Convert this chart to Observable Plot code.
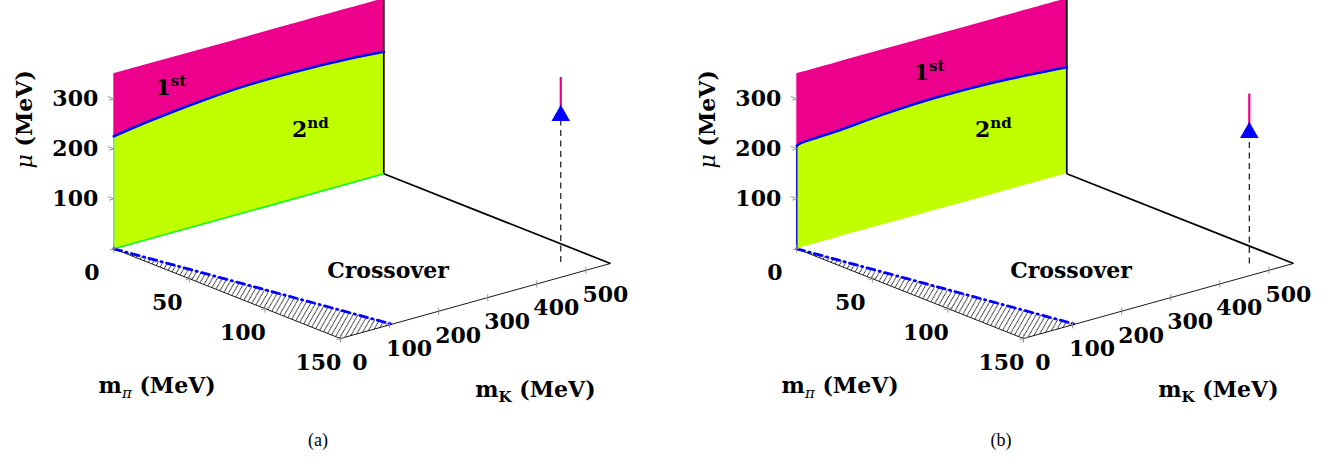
<!DOCTYPE html>
<html><head><meta charset="utf-8">
<script src="https://cdn.jsdelivr.net/npm/d3@7"></script>
<script src="https://cdn.jsdelivr.net/npm/@observablehq/plot@0.6"></script>
<style>
body{margin:0;background:#fff;}
#wrap{position:relative;width:1340px;height:466px;overflow:hidden;background:#fff;}
.panel{position:absolute;top:0;width:683px;height:425px;}
.cap{position:absolute;top:430px;width:636px;text-align:center;font-family:"Liberation Serif",serif;font-size:18px;color:#000;}
</style></head><body><div id="wrap"></div>
<script>
// ---------- data ----------
const muTicks  = [100, 200, 300];
const mpiTicks = [0, 50, 100, 150];
const mkTicks  = [0, 100, 200, 300, 400, 500];
const mpiMax = 150, mkMax = 550, muMax = 350;

// first/second order boundary on the m_pi = 0 wall
const wallMK_a = [0, 75, 177, 278, 380, 482, 550];
const wallMu_a = [225, 236, 247, 253, 253, 249, 244];
const wallMK_b = [0, 7, 79, 181, 282, 384, 486, 550];
const wallMu_b = [206, 209, 213, 221, 225, 224, 218, 213];

// hatched region boundary on the floor (mu = 0)
const floorMpi = [0, 50, 100, 150];
const floorMK  = [0, 35, 70, 105];

// physical point line
const phys_a = {mpi: 135, mk: 495, muC: 293, muTop: 370};
const phys_b = {mpi: 138, mk: 497, muC: 262, muTop: 340};

// region labels
const lab_a = {cross: [97, 260], first: [85, 299], second: [363, 139]};
const lab_b = {cross: [97, 260], first: [238, 286], second: [363, 138]};

// ---------- view projection (3D -> 2D) ----------
const V = {xMpi: 1.511, xMk: 0.4909, yMpi: -0.598, yMk: 0.1364, yMu: 0.5};
const px = (mpi, mk) => V.xMpi * mpi + V.xMk * mk;
const py = (mpi, mk, mu) => V.yMpi * mpi + V.yMk * mk + V.yMu * mu;

const W = 683, H = 425, OX = 113.3, OY = 248.3;
const MAGENTA = "#EC008C", LIME = "#BFFF00", BLUE = "#0000FF", GREEN = "#00FF00", GRAY = "#8a8a8a";
const FONT = "DejaVu Serif";

function seg(a, b) { return {x1: px(a[0], a[1]), y1: py(...a), x2: px(b[0], b[1]), y2: py(...b)}; }

function panel(wallMK, wallMu, phys, lab, id, variant) {
  const wall = wallMK.map((k, i) => ({x: px(0, k), y0: py(0, k, 0), yb: py(0, k, wallMu[i]), yt: py(0, k, muMax)}));
  const lower = floorMpi.map(m => ({x: px(m, 0), y: py(m, 0, 0)}));
  const bnd = floorMpi.map((m, i) => ({x: px(m, floorMK[i]), y: py(m, floorMK[i], 0)}));
  const hatch = [...lower, ...bnd.slice().reverse()];

  const edgesBlack = [seg([0, mkMax, 0], [0, mkMax, muMax]), seg([0, mkMax, 0], [mpiMax, mkMax, 0])];
  const axesThin = [seg([0, 0, 0], [mpiMax, 0, 0]), seg([mpiMax, 0, 0], [mpiMax, mkMax, 0])];
  const ticks = [
    ...muTicks.flatMap(t => [seg([0, 0, t], [-4, 0, t]), seg([0, 0, t], [0, -10, t])]),
    ...mpiTicks.flatMap(t => [seg([t, 0, -8], [t, 0, 8]), seg([t, -8, 0], [t, 8, 0])]),
    ...mkTicks.map(t => seg([mpiMax, t, -7], [mpiMax, t, 7]))
  ];
  const leftEdge = [seg([0, 0, 0], [0, 0, wallMu[0]])];
  const bottomEdge = [seg([0, 0, 0], [0, mkMax, 0])];
  const dashSeg = [seg([phys.mpi, phys.mk, 0], [phys.mpi, phys.mk, phys.muC])];
  const topSeg = [seg([phys.mpi, phys.mk, phys.muC], [phys.mpi, phys.mk, phys.muTop])];

  const txt = {fontFamily: FONT, fontWeight: "bold", fontSize: 22, fill: "black"};
  const marks = [
    Plot.areaY(wall, {x: "x", y1: "y0", y2: "yb", fill: LIME, curve: "catmull-rom"}),
    Plot.areaY(wall, {x: "x", y1: "yb", y2: "yt", fill: MAGENTA, curve: "catmull-rom"}),
    Plot.line(hatch, {x: "x", y: "y", fill: `url(#${id})`, stroke: "none"}),
    Plot.link(axesThin, {x1: "x1", y1: "y1", x2: "x2", y2: "y2", stroke: "black", strokeWidth: 0.9}),
    Plot.link(edgesBlack, {x1: "x1", y1: "y1", x2: "x2", y2: "y2", stroke: "black", strokeWidth: 1.7}),
  ];
  if (variant === "a") {
    marks.push(Plot.link(bottomEdge, {x1: "x1", y1: "y1", x2: "x2", y2: "y2", stroke: GREEN, strokeWidth: 1.6}));
    marks.push(Plot.link(leftEdge, {x1: "x1", y1: "y1", x2: "x2", y2: "y2", stroke: "#6be86b", strokeWidth: 1.6}));
  } else {
    marks.push(Plot.link(leftEdge, {x1: "x1", y1: "y1", x2: "x2", y2: "y2", stroke: BLUE, strokeWidth: 1.4}));
  }
  marks.push(
    Plot.line(wall, {x: "x", y: "yb", stroke: BLUE, strokeWidth: 2.6, curve: "catmull-rom"}),
    Plot.line(bnd, {x: "x", y: "y", stroke: BLUE, strokeWidth: 2.8, strokeDasharray: "8,4.5,1.2,4.5"}),
    Plot.link(ticks, {x1: "x1", y1: "y1", x2: "x2", y2: "y2", stroke: GRAY, strokeWidth: 0.9}),
    // physical point
    Plot.link(dashSeg, {x1: "x1", y1: "y1", x2: "x2", y2: "y2", stroke: "black", strokeWidth: 1.1, strokeDasharray: "6,4.5"}),
    Plot.link(topSeg, {x1: "x1", y1: "y1", x2: "x2", y2: "y2", stroke: MAGENTA, strokeWidth: 2.2}),
    Plot.dot([phys], {x: d => px(d.mpi, d.mk), y: d => py(d.mpi, d.mk, d.muC), symbol: "triangle", r: 6.9, fill: BLUE, stroke: "none"}),
    // tick labels
    Plot.text(muTicks, {x: 0, y: d => py(0, 0, d), text: d => String(d), textAnchor: "end", dx: -15.5, ...txt}),
    Plot.text(mpiTicks, {x: d => px(d, 0), y: d => py(d, 0, 0), text: d => String(d), dx: -22, dy: 24, ...txt}),
    Plot.text(mkTicks, {x: d => px(mpiMax, d), y: d => py(mpiMax, d, 0), text: d => String(d), dx: 19.5, dy: 24.5, ...txt}),
    // region labels
    Plot.text([lab.cross], {x: d => px(d[0], d[1]), y: d => py(d[0], d[1], 0), text: () => "Crossover", ...txt}),
    Plot.text([lab.first], {x: d => px(0, d[0]), y: d => py(0, d[0], d[1]), text: () => "1st", textAnchor: "start", ...txt}),
    Plot.text([lab.second], {x: d => px(0, d[0]), y: d => py(0, d[0], d[1]), text: () => "2nd", textAnchor: "start", ...txt}),
    // axis titles
    Plot.text([[0, 0, 175]], {x: d => px(d[0], d[1]), y: d => py(...d), text: () => "μ (MeV)", rotate: -90, dx: -89, dy: -42, ...txt}),
    Plot.text([[75, 0, 0]], {x: d => px(d[0], d[1]), y: d => py(...d), text: () => "mπ (MeV)", dx: -70, dy: 92, ...txt}),
    Plot.text([[150, 275, 0]], {x: d => px(d[0], d[1]), y: d => py(...d), text: () => "mK (MeV)", dx: 60, dy: 88.5, ...txt})
  );

  const svg = Plot.plot({
    width: W, height: H,
    marginLeft: 0, marginRight: 0, marginTop: 0, marginBottom: 0,
    x: {type: "linear", domain: [-OX, W - OX], range: [0, W], axis: null},
    y: {type: "linear", domain: [-(H - OY), OY], range: [H, 0], axis: null},
    style: {background: "white", overflow: "visible"},
    marks
  });
  svg.insertAdjacentHTML("afterbegin",
    `<defs><pattern id="${id}" patternUnits="userSpaceOnUse" width="6" height="6" patternTransform="rotate(-15)">
      <path d="M-1,1 l2,-2 M0,6 l6,-6 M5,7 l2,-2" stroke="black" stroke-width="0.9"/>
    </pattern></defs>`);
  // rich text (sub/superscripts, italic mu)
  svg.querySelectorAll("text").forEach(t => {
    const s = t.textContent;
    if (s === "1st") t.innerHTML = `1<tspan dy="-9" font-size="15">st</tspan>`;
    else if (s === "2nd") t.innerHTML = `2<tspan dy="-9" font-size="15">nd</tspan>`;
    else if (s === "mπ (MeV)") t.innerHTML = `m<tspan dy="5" font-size="15" font-weight="normal" font-style="italic">π</tspan><tspan dy="-5"> (MeV)</tspan>`;
    else if (s === "mK (MeV)") t.innerHTML = `m<tspan dy="5" font-size="15">K</tspan><tspan dy="-5"> (MeV)</tspan>`;
    else if (s === "μ (MeV)") t.innerHTML = `<tspan font-style="italic" font-weight="normal">μ</tspan> (MeV)`;
  });
  return svg;
}

const wrap = document.getElementById("wrap");
[["a", wallMK_a, wallMu_a, phys_a, lab_a, 0], ["b", wallMK_b, wallMu_b, phys_b, lab_b, 683]].forEach(([v, mk, mu, ph, lab, left]) => {
  const div = document.createElement("div");
  div.className = "panel"; div.style.left = left + "px";
  div.appendChild(panel(mk, mu, ph, lab, "hatch_" + v, v));
  wrap.appendChild(div);
  const cap = document.createElement("div");
  cap.className = "cap"; cap.style.left = left + "px"; cap.textContent = `(${v})`;
  wrap.appendChild(cap);
});
</script></body></html>
